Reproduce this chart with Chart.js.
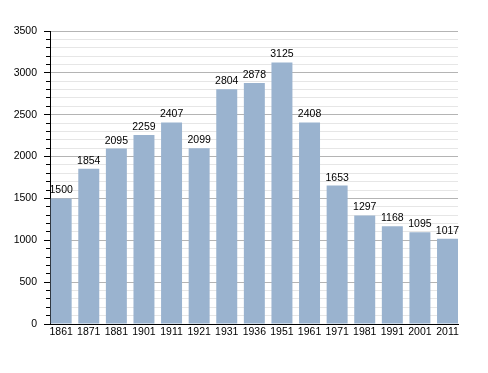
<!DOCTYPE html>
<html>
<head>
<meta charset="utf-8">
<script src="https://cdn.jsdelivr.net/npm/chart.js@4/dist/chart.umd.min.js"></script>
<style>
  html, body { margin: 0; padding: 0; background: #fff; }
  #wrap { width: 488px; height: 373px; }
</style>
</head>
<body>
<div id="wrap"><canvas id="myChart"></canvas></div>
<script>
const years = ['1861', '1871', '1881', '1901', '1911', '1921', '1931', '1936', '1951', '1961', '1971', '1981', '1991', '2001', '2011'];
const population = [1500, 1854, 2095, 2259, 2407, 2099, 2804, 2878, 3125, 2408, 1653, 1297, 1168, 1095, 1017];
const yMax = 3500;
const yStep = 100;
const yLabelStep = 500;

const fontFamily = '"Liberation Sans", Arial, sans-serif';

// value labels above each bar
const barLabels = {
    id: 'barLabels',
    afterDatasetsDraw(chart) {
        const ctx = chart.ctx;
        const meta = chart.getDatasetMeta(0);
        ctx.save();
        ctx.font = '10.5px ' + fontFamily;
        ctx.fillStyle = '#000';
        ctx.textAlign = 'center';
        ctx.textBaseline = 'alphabetic';
        meta.data.forEach((bar, i) => {
            ctx.fillText(String(population[i]), bar.x, bar.y - 5);
        });
        ctx.restore();
    }
};

Chart.defaults.font.family = fontFamily;
Chart.defaults.font.size = 10.5;
Chart.defaults.color = '#000';

const isMajor = (c) => c.tick && c.tick.value % yLabelStep === 0;

const data = {
    datasets: [{
        data: population.map((v, i) => ({ x: i, y: v })),
        backgroundColor: '#9ab3cf',
        borderWidth: 0,
        categoryPercentage: 1,
        barPercentage: 0.76
    }]
};

const config = {
    type: 'bar',
    data: data,
    options: {
        responsive: true,
        maintainAspectRatio: false,
        animation: false,
        layout: { padding: { top: 31, right: 30, left: 0, bottom: 0 } },
        plugins: {
            legend: { display: false },
            tooltip: { enabled: false }
        },
        scales: {
            x: {
                type: 'linear',
                offset: false,
                min: -0.405,
                max: years.length - 1 + 0.38,
                afterBuildTicks: (s) => { s.ticks = years.map((_, i) => ({ value: i })); },
                afterFit: (s) => { s.height = 49; },
                grid: { display: false, drawTicks: false, offset: false },
                border: { display: true, color: '#000', width: 1 },
                ticks: {
                    autoSkip: false,
                    maxRotation: 0,
                    padding: 2,
                    callback: (v) => years[v] ?? ''
                }
            },
            y: {
                min: 0,
                max: yMax,
                afterFit: (s) => { s.width = 50; },
                border: { display: true, color: '#000', width: 1 },
                grid: {
                    color: (c) => isMajor(c) ? '#b4b4b4' : '#e6e6e6',
                    tickColor: '#000',
                    tickLength: 6,
                    // minor ticks are shorter: skip their first 2px
                    tickBorderDash: (c) => isMajor(c) ? [] : [0, 2, 4, 0],
                    lineWidth: 1
                },
                ticks: {
                    stepSize: yStep,
                    maxTicksLimit: 100,
                    autoSkip: false,
                    padding: 7,
                    callback: (v) => v % yLabelStep === 0 ? String(v) : ''
                }
            }
        }
    },
    plugins: [barLabels]
};

const myChart = new Chart(document.getElementById('myChart').getContext('2d'), config);
</script>
</body>
</html>
